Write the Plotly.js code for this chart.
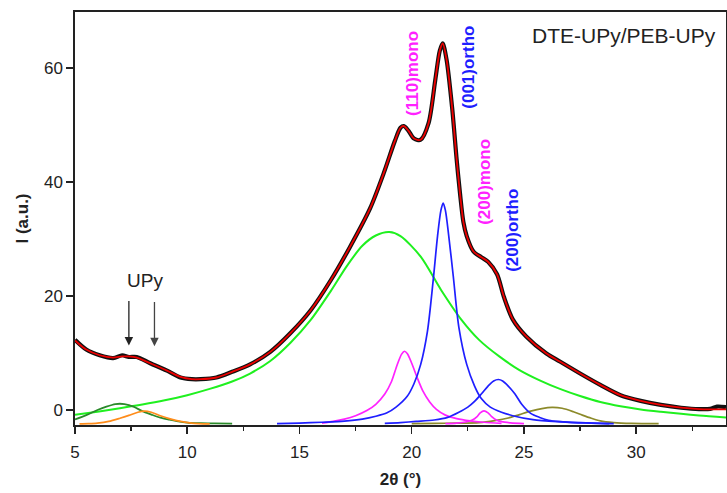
<!DOCTYPE html>
<html>
<head>
<meta charset="utf-8">
<script src="https://cdn.plot.ly/plotly-3.0.1.min.js"></script>
<style>html,body{margin:0;padding:0;background:#fff;}#chart{width:727px;height:493px;}</style>
</head>
<body>
<div id="chart"></div>
<script>
// Measured XRD pattern (black) and fitted sum (red)
const dataX = [5.0, 5.5, 6.1, 6.7, 7.1, 7.4, 7.75, 8.35, 9.1, 9.7, 10.2, 10.6, 11.3, 12.0, 12.8, 13.7, 14.6, 15.5, 16.4, 17.25, 18.15, 18.75, 19.25, 19.5, 19.65, 19.85, 20.1, 20.4, 20.75, 21.05, 21.25, 21.38, 21.55, 21.8, 22.0, 22.15, 22.3, 22.45, 22.75, 23.1, 23.4, 23.8, 24.1, 24.5, 25.1, 26.0, 26.6, 27.5, 28.4, 29.3, 30.2, 31.1, 32.0, 32.8, 33.3, 33.6, 34.0];
const dataY = [12.3, 10.6, 9.6, 9.1, 9.6, 9.3, 9.3, 8.2, 6.9, 5.7, 5.4, 5.4, 5.7, 6.7, 8.0, 10.2, 13.5, 17.5, 22.8, 28.6, 35.4, 41.5, 47.2, 49.5, 49.8, 49.0, 47.6, 47.4, 50.3, 57.9, 63.0, 64.3, 61.5, 53.0, 44.0, 38.0, 33.0, 30.5, 27.8, 26.8, 26.0, 23.8, 19.9, 15.9, 12.9, 9.9, 8.5, 6.4, 4.4, 2.6, 1.6, 0.9, 0.4, 0.15, 0.2, 0.6, 0.5];
const fitX = [5.0, 5.5, 6.1, 6.7, 7.1, 7.4, 7.75, 8.35, 9.1, 9.7, 10.2, 10.6, 11.3, 12.0, 12.8, 13.7, 14.6, 15.5, 16.4, 17.25, 18.15, 18.75, 19.25, 19.5, 19.65, 19.85, 20.1, 20.4, 20.75, 21.05, 21.25, 21.38, 21.55, 21.8, 22.0, 22.15, 22.3, 22.45, 22.75, 23.1, 23.4, 23.8, 24.1, 24.5, 25.1, 26.0, 26.6, 27.5, 28.4, 29.3, 30.2, 31.1, 32.0, 32.8, 33.3, 33.6, 34.0];
const fitY = [12.2, 10.6, 9.6, 9.2, 9.4, 9.4, 9.2, 8.2, 6.9, 5.8, 5.4, 5.4, 5.7, 6.7, 8.0, 10.2, 13.5, 17.5, 22.8, 28.6, 35.4, 41.5, 47.2, 49.5, 49.8, 49.0, 47.6, 47.4, 50.3, 57.9, 63.0, 64.3, 61.5, 53.0, 44.0, 38.0, 33.0, 30.5, 27.8, 26.8, 26.0, 23.8, 19.9, 15.9, 12.9, 9.9, 8.5, 6.4, 4.4, 2.6, 1.6, 0.9, 0.4, 0.15, 0.1, 0.1, 0.1];

// Fitted components
const haloX = [5, 6, 7, 8, 9, 10, 11, 12, 12.8, 13.7, 14.6, 15.5, 16.4, 17.1, 17.8, 18.4, 19.0, 19.5, 20.4, 21.3, 22.2, 23.0, 23.9, 24.8, 25.7, 26.6, 27.5, 28.4, 29.3, 30.2, 31.1, 32.0, 32.8, 34.0];
const haloY = [-0.85, -0.3, 0.3, 0.95, 1.7, 2.6, 3.7, 5.0, 6.4, 8.6, 11.8, 15.8, 20.9, 25.2, 28.8, 30.6, 31.2, 30.5, 26.9, 21.1, 15.9, 12.3, 9.4, 7.0, 5.2, 3.7, 2.45, 1.4, 0.65, 0.1, -0.3, -0.65, -0.95, -1.3];

const ortho001X = [14, 15, 16, 17, 17.8, 18.4, 18.9, 19.3, 19.8, 20.1, 20.4, 20.7, 20.95, 21.15, 21.3, 21.4, 21.5, 21.65, 21.85, 22.1, 22.45, 22.8, 23.1, 23.5, 24.0, 24.5, 25.4, 26.5, 28, 29];
const ortho001Y = [-2.4, -2.3, -2.15, -1.95, -1.6, -1.1, -0.5, 0.5, 2.4, 4.6, 8.0, 13.8, 22.5, 30.5, 35.0, 36.3, 35.0, 30.5, 23.5, 14.5, 8.0, 4.2, 2.0, 0.5, -0.4, -1.0, -1.7, -2.05, -2.3, -2.4];

const ortho200X = [18.8, 19.5, 20.2, 21.0, 21.6, 22.1, 22.5, 22.8, 23.1, 23.4, 23.65, 23.86, 24.05, 24.3, 24.6, 24.9, 25.3, 25.7, 26.1, 26.6, 27.2, 28.0, 28.8];
const ortho200Y = [-2.35, -2.2, -2.0, -1.75, -1.3, -0.4, 0.5, 1.5, 2.8, 4.2, 5.1, 5.35, 5.1, 4.2, 2.8, 1.0, -0.6, -1.3, -1.8, -2.05, -2.2, -2.3, -2.4];

const mono110X = [16.0, 16.5, 17.0, 17.5, 18.0, 18.4, 18.8, 19.1, 19.35, 19.55, 19.68, 19.8, 20.0, 20.25, 20.5, 20.8, 21.1, 21.5, 22.0, 22.6, 23.2, 24.0];
const mono110Y = [-2.3, -2.0, -1.6, -1.0, -0.1, 1.0, 2.8, 5.0, 7.9, 9.8, 10.3, 9.9, 8.2, 5.6, 3.3, 1.4, 0.1, -0.9, -1.5, -1.9, -2.15, -2.35];

const mono200X = [21.5, 22.0, 22.4, 22.7, 22.9, 23.05, 23.22, 23.4, 23.55, 23.75, 24.0, 24.4, 25.0];
const mono200Y = [-2.4, -2.3, -2.1, -1.75, -1.2, -0.5, -0.15, -0.5, -1.1, -1.7, -2.05, -2.25, -2.4];

const oliveX = [20.0, 21.0, 22.0, 23.0, 23.7, 24.3, 24.8, 25.3, 25.8, 26.25, 26.7, 27.2, 27.6, 28.0, 28.4, 29.0, 29.8, 31.0];
const oliveY = [-2.4, -2.35, -2.3, -2.2, -1.85, -1.4, -0.8, -0.2, 0.25, 0.45, 0.3, -0.3, -0.9, -1.45, -1.9, -2.2, -2.35, -2.4];

const upy1X = [5.0, 5.5, 6.0, 6.4, 6.8, 7.0, 7.2, 7.6, 8.0, 8.4, 8.8, 9.2, 9.6, 10.0, 10.6, 11.2, 12.0];
const upy1Y = [-1.65, -0.9, 0.0, 0.6, 1.05, 1.1, 1.05, 0.6, -0.2, -0.8, -1.35, -1.7, -2.0, -2.2, -2.3, -2.35, -2.4];

const upy2X = [5.2, 5.6, 6.0, 6.5, 7.0, 7.4, 7.8, 8.1, 8.4, 8.8, 9.2, 9.7, 10.2, 11.0];
const upy2Y = [-2.45, -2.4, -2.3, -2.0, -1.45, -0.95, -0.4, -0.2, -0.4, -1.0, -1.5, -2.0, -2.3, -2.45];

const xTicks = [5, 10, 15, 20, 25, 30];
const yTicks = [0, 20, 40, 60];

function line(x, y, color, width) {
  return {x: x, y: y, type: 'scatter', mode: 'lines', hoverinfo: 'skip',
          line: {color: color, width: width, shape: 'spline', smoothing: 0.8}};
}

const traces = [
  line(haloX, haloY, '#1ff01f', 2.0),
  line(upy1X, upy1Y, '#2a8a2a', 1.8),
  line(upy2X, upy2Y, '#ff8c1a', 1.7),
  line(oliveX, oliveY, '#8c8a2a', 1.7),
  line(mono110X, mono110Y, '#ff22ff', 1.7),
  line(mono200X, mono200Y, '#ff22ff', 1.7),
  line(ortho001X, ortho001Y, '#1f1fff', 1.7),
  line(ortho200X, ortho200Y, '#1f1fff', 1.7),
  line(dataX, dataY, '#111111', 4.2),
  line(fitX, fitY, '#ee0000', 1.8)
];

const F = 'Liberation Sans, Arial, sans-serif';
const layout = {
  width: 727, height: 493,
  margin: {l: 75, r: 1, t: 12, b: 68},
  paper_bgcolor: '#ffffff', plot_bgcolor: '#ffffff',
  showlegend: false,
  font: {family: F, size: 17, color: '#222'},
  xaxis: {
    range: [5, 34.0], showgrid: false, zeroline: false,
    showline: true, linecolor: '#222', linewidth: 1.6, mirror: true,
    ticks: 'outside', ticklen: 7, tickwidth: 1.5, tickcolor: '#222',
    tickvals: xTicks, ticktext: xTicks.map(String),
    ticklabelstandoff: 4,
    minor: {dtick: 2.5, tick0: 5, ticks: 'outside', ticklen: 4, tickwidth: 1.3, tickcolor: '#222', showgrid: false},
    tickfont: {family: F, size: 17, color: '#222'},
    title: {text: '<b>2θ (°)</b>', font: {family: F, size: 17, color: '#222'}, standoff: 12}
  },
  yaxis: {
    range: [-2.63, 69.8], showgrid: false, zeroline: false,
    showline: true, linecolor: '#222', linewidth: 1.6, mirror: true,
    ticks: 'outside', ticklen: 7, tickwidth: 1.5, tickcolor: '#222',
    tickvals: yTicks, ticktext: yTicks.map(String),
    tickfont: {family: F, size: 17, color: '#222'},
    title: {text: '<b>I (a.u.)</b>', font: {family: F, size: 17, color: '#222'}, standoff: 11}
  },
  annotations: [
    {x: 29.45, y: 65.6, xref: 'x', yref: 'y', text: 'DTE-UPy/PEB-UPy', showarrow: false,
     font: {family: F, size: 21, color: '#222'}},
    {x: 8.12, y: 22.8, xref: 'x', yref: 'y', text: 'UPy', showarrow: false,
     font: {family: F, size: 19, color: '#222'}},
    {x: 20.01, y: 59.1, xref: 'x', yref: 'y', text: '<b>(110)mono</b>', textangle: -90, showarrow: false,
     font: {family: F, size: 17, color: '#ff22ff'}},
    {x: 22.55, y: 60.2, xref: 'x', yref: 'y', text: '<b>(001)ortho</b>', textangle: -90, showarrow: false,
     font: {family: F, size: 17, color: '#1f1fff'}},
    {x: 23.26, y: 40.0, xref: 'x', yref: 'y', text: '<b>(200)mono</b>', textangle: -90, showarrow: false,
     font: {family: F, size: 17, color: '#ff22ff'}},
    {x: 24.51, y: 31.6, xref: 'x', yref: 'y', text: '<b>(200)ortho</b>', textangle: -90, showarrow: false,
     font: {family: F, size: 17, color: '#1f1fff'}},
    {x: 7.4, y: 11.3, ax: 7.4, ay: 19.4, xref: 'x', yref: 'y', axref: 'x', ayref: 'y', text: '',
     showarrow: true, arrowhead: 2, arrowsize: 1.3, arrowwidth: 1.3, arrowcolor: '#222'},
    {x: 8.54, y: 11.2, ax: 8.54, ay: 19.2, xref: 'x', yref: 'y', axref: 'x', ayref: 'y', text: '',
     showarrow: true, arrowhead: 2, arrowsize: 1.3, arrowwidth: 1.3, arrowcolor: '#444'}
  ]
};

Plotly.newPlot('chart', traces, layout, {displayModeBar: false, staticPlot: true});
</script>
</body>
</html>
